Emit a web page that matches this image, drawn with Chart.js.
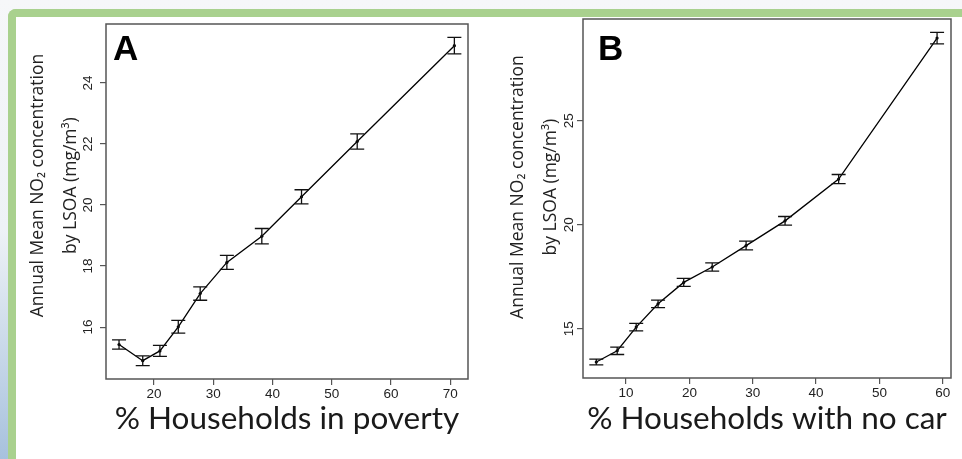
<!DOCTYPE html>
<html>
<head>
<meta charset="utf-8">
<script src="https://cdn.jsdelivr.net/npm/chart.js@4.4.1/dist/chart.umd.min.js"></script>
<style>
  html, body { margin: 0; padding: 0; }
  body {
    width: 962px; height: 459px; position: relative; overflow: hidden;
    background: linear-gradient(180deg, #f6f7f9 0%, #eef2f6 50%, #a7c1dd 100%);
  }
  #frame {
    position: absolute; left: 8px; top: 9px; right: 0; bottom: 0;
    background: #fff;
    border-top: 8px solid #a9d18e; border-left: 8px solid #a9d18e;
    border-top-left-radius: 8px;
  }
  .panel { position: absolute; top: 0; width: 481px; height: 459px; }
</style>
</head>
<body>
<div id="frame"></div>
<div class="panel" style="left:0"><canvas id="chartA"></canvas></div>
<div class="panel" style="left:481px"><canvas id="chartB"></canvas></div>
<script>
// Panel A: % households in poverty
const povertyPct = [14.1, 18.1, 21.0, 24.1, 27.8, 32.3, 38.2, 44.9, 54.3, 70.7];
const povertyNO2 = [15.43, 14.90, 15.22, 16.01, 17.10, 18.12, 18.98, 20.27, 22.08, 25.22];
const povertyErr = [0.15, 0.16, 0.18, 0.21, 0.22, 0.23, 0.25, 0.23, 0.25, 0.27];
const povertyXTicks = [20, 30, 40, 50, 60, 70];
const povertyYTicks = [16, 18, 20, 22, 24];
const povertyXRange = [11.9, 73.0];
const povertyYRange = [14.3, 25.93];

// Panel B: % households with no car
const noCarPct = [5.3, 8.6, 11.6, 15.05, 19.1, 23.6, 28.95, 35.1, 43.56, 59.1];
const noCarNO2 = [13.40, 13.94, 15.08, 16.20, 17.23, 17.97, 19.00, 20.19, 22.20, 28.98];
const noCarErr = [0.14, 0.18, 0.18, 0.18, 0.19, 0.20, 0.21, 0.21, 0.22, 0.28];
const noCarXTicks = [10, 20, 30, 40, 50, 60];
const noCarYTicks = [15, 20, 25];
const noCarXRange = [3.2, 61.3];
const noCarYRange = [12.63, 29.9];

const yTitle = ['Annual Mean NO\u2082 concentration', 'by LSOA (mg/m\u00b3)'];
const tickFont = { family: '"Liberation Sans", Arial, sans-serif', size: 13.5 };

const errorBars = {
  id: 'errorBars',
  afterDatasetsDraw(chart, args, o) {
    const { ctx, scales: { x, y } } = chart;
    ctx.save();
    ctx.strokeStyle = '#111';
    ctx.lineWidth = 1.3;
    chart.data.datasets[0].data.forEach((p, i) => {
      const px = x.getPixelForValue(p.x);
      const top = y.getPixelForValue(p.y + o.err[i]);
      const bot = y.getPixelForValue(p.y - o.err[i]);
      ctx.beginPath();
      ctx.moveTo(px, top); ctx.lineTo(px, bot);
      ctx.moveTo(px - o.cap, top); ctx.lineTo(px + o.cap, top);
      ctx.moveTo(px - o.cap, bot); ctx.lineTo(px + o.cap, bot);
      ctx.stroke();
    });
    ctx.restore();
  }
};

// box around the plot, rotated y tick labels, panel letter
const frameBits = {
  id: 'frameBits',
  afterDraw(chart, args, o) {
    const { ctx, chartArea: a, scales: { y } } = chart;
    ctx.save();
    ctx.strokeStyle = '#555';
    ctx.lineWidth = 1.5;
    ctx.strokeRect(a.left, a.top, a.right - a.left, a.bottom - a.top);

    ctx.fillStyle = '#222';
    ctx.font = '13.5px "Liberation Sans", Arial, sans-serif';
    ctx.textAlign = 'center';
    ctx.textBaseline = 'middle';
    y.ticks.forEach(t => {
      ctx.save();
      ctx.translate(a.left - o.tickGap, y.getPixelForValue(t.value));
      ctx.rotate(-Math.PI / 2);
      ctx.fillText(String(t.value), 0, 0);
      ctx.restore();
    });

    ctx.fillStyle = '#000';
    ctx.font = 'bold 35px "Liberation Sans", Arial, sans-serif';
    ctx.textAlign = 'left';
    ctx.textBaseline = 'alphabetic';
    ctx.fillText(o.letter, a.left + o.letterDx, a.top + o.letterDy);
    ctx.restore();
  }
};

function makePanel(id, xs, ys, errs, xTicks, yTicks, xRange, yRange, xTitle, look) {
  new Chart(document.getElementById(id), {
    type: 'line',
    data: {
      datasets: [{
        data: xs.map((v, i) => ({ x: v, y: ys[i] })),
        borderColor: '#000',
        borderWidth: 1.3,
        pointRadius: 1.6,
        pointBackgroundColor: '#000',
        pointBorderWidth: 0,
        tension: 0
      }]
    },
    options: {
      responsive: true,
      maintainAspectRatio: false,
      animation: false,
      layout: { padding: { left: 0, top: look.top, right: look.right, bottom: 0 } },
      plugins: {
        legend: { display: false },
        tooltip: { enabled: false },
        errorBars: { err: errs, cap: 7 },
        frameBits: { letter: look.letter, letterDx: look.letterDx, letterDy: look.letterDy, tickGap: look.tickGap }
      },
      scales: {
        x: {
          type: 'linear',
          min: xRange[0], max: xRange[1],
          afterBuildTicks: s => { s.ticks = xTicks.map(v => ({ value: v })); },
          afterFit: s => { s.height = look.xHeight; },
          border: { display: false },
          grid: { drawOnChartArea: false, drawTicks: true, tickLength: 6, color: '#555', lineWidth: 1.2 },
          ticks: { font: tickFont, color: '#222', padding: 1, maxRotation: 0 },
          title: {
            display: true, text: xTitle, color: '#1a1a1a',
            font: { family: 'Lato, "Noto Sans", sans-serif', size: 31.5 },
            padding: { top: 0, bottom: 21 }
          }
        },
        y: {
          type: 'linear',
          min: yRange[0], max: yRange[1],
          afterBuildTicks: s => { s.ticks = yTicks.map(v => ({ value: v })); },
          afterFit: s => { s.width = look.yWidth; },
          border: { display: false },
          grid: { drawOnChartArea: false, drawTicks: true, tickLength: 6, color: '#555', lineWidth: 1.2 },
          ticks: { display: false },
          title: {
            display: true,
            text: yTitle.map(t => look.shift + t),
            color: '#222',
            font: { family: '"Open Sans", "Noto Sans", sans-serif', size: 17.5, lineHeight: 1.89 },
            padding: { top: look.titlePad, bottom: 0 }
          }
        }
      }
    },
    plugins: [errorBars, frameBits]
  });
}

makePanel('chartA', povertyPct, povertyNO2, povertyErr, povertyXTicks, povertyYTicks,
  povertyXRange, povertyYRange, '% Households in poverty',
  { top: 24, right: 13, yWidth: 106, xHeight: 80, titlePad: 21, tickGap: 18,
    letter: 'A', letterDx: 7, letterDy: 36, shift: '\u00a0'.repeat(7) });

makePanel('chartB', noCarPct, noCarNO2, noCarErr, noCarXTicks, noCarYTicks,
  noCarXRange, noCarYRange, '% Households with no car',
  { top: 19, right: 11, yWidth: 102, xHeight: 81, titlePad: 20, tickGap: 14,
    letter: 'B', letterDx: 15, letterDy: 41, shift: '\u00a0'.repeat(5) });
</script>
</body>
</html>
